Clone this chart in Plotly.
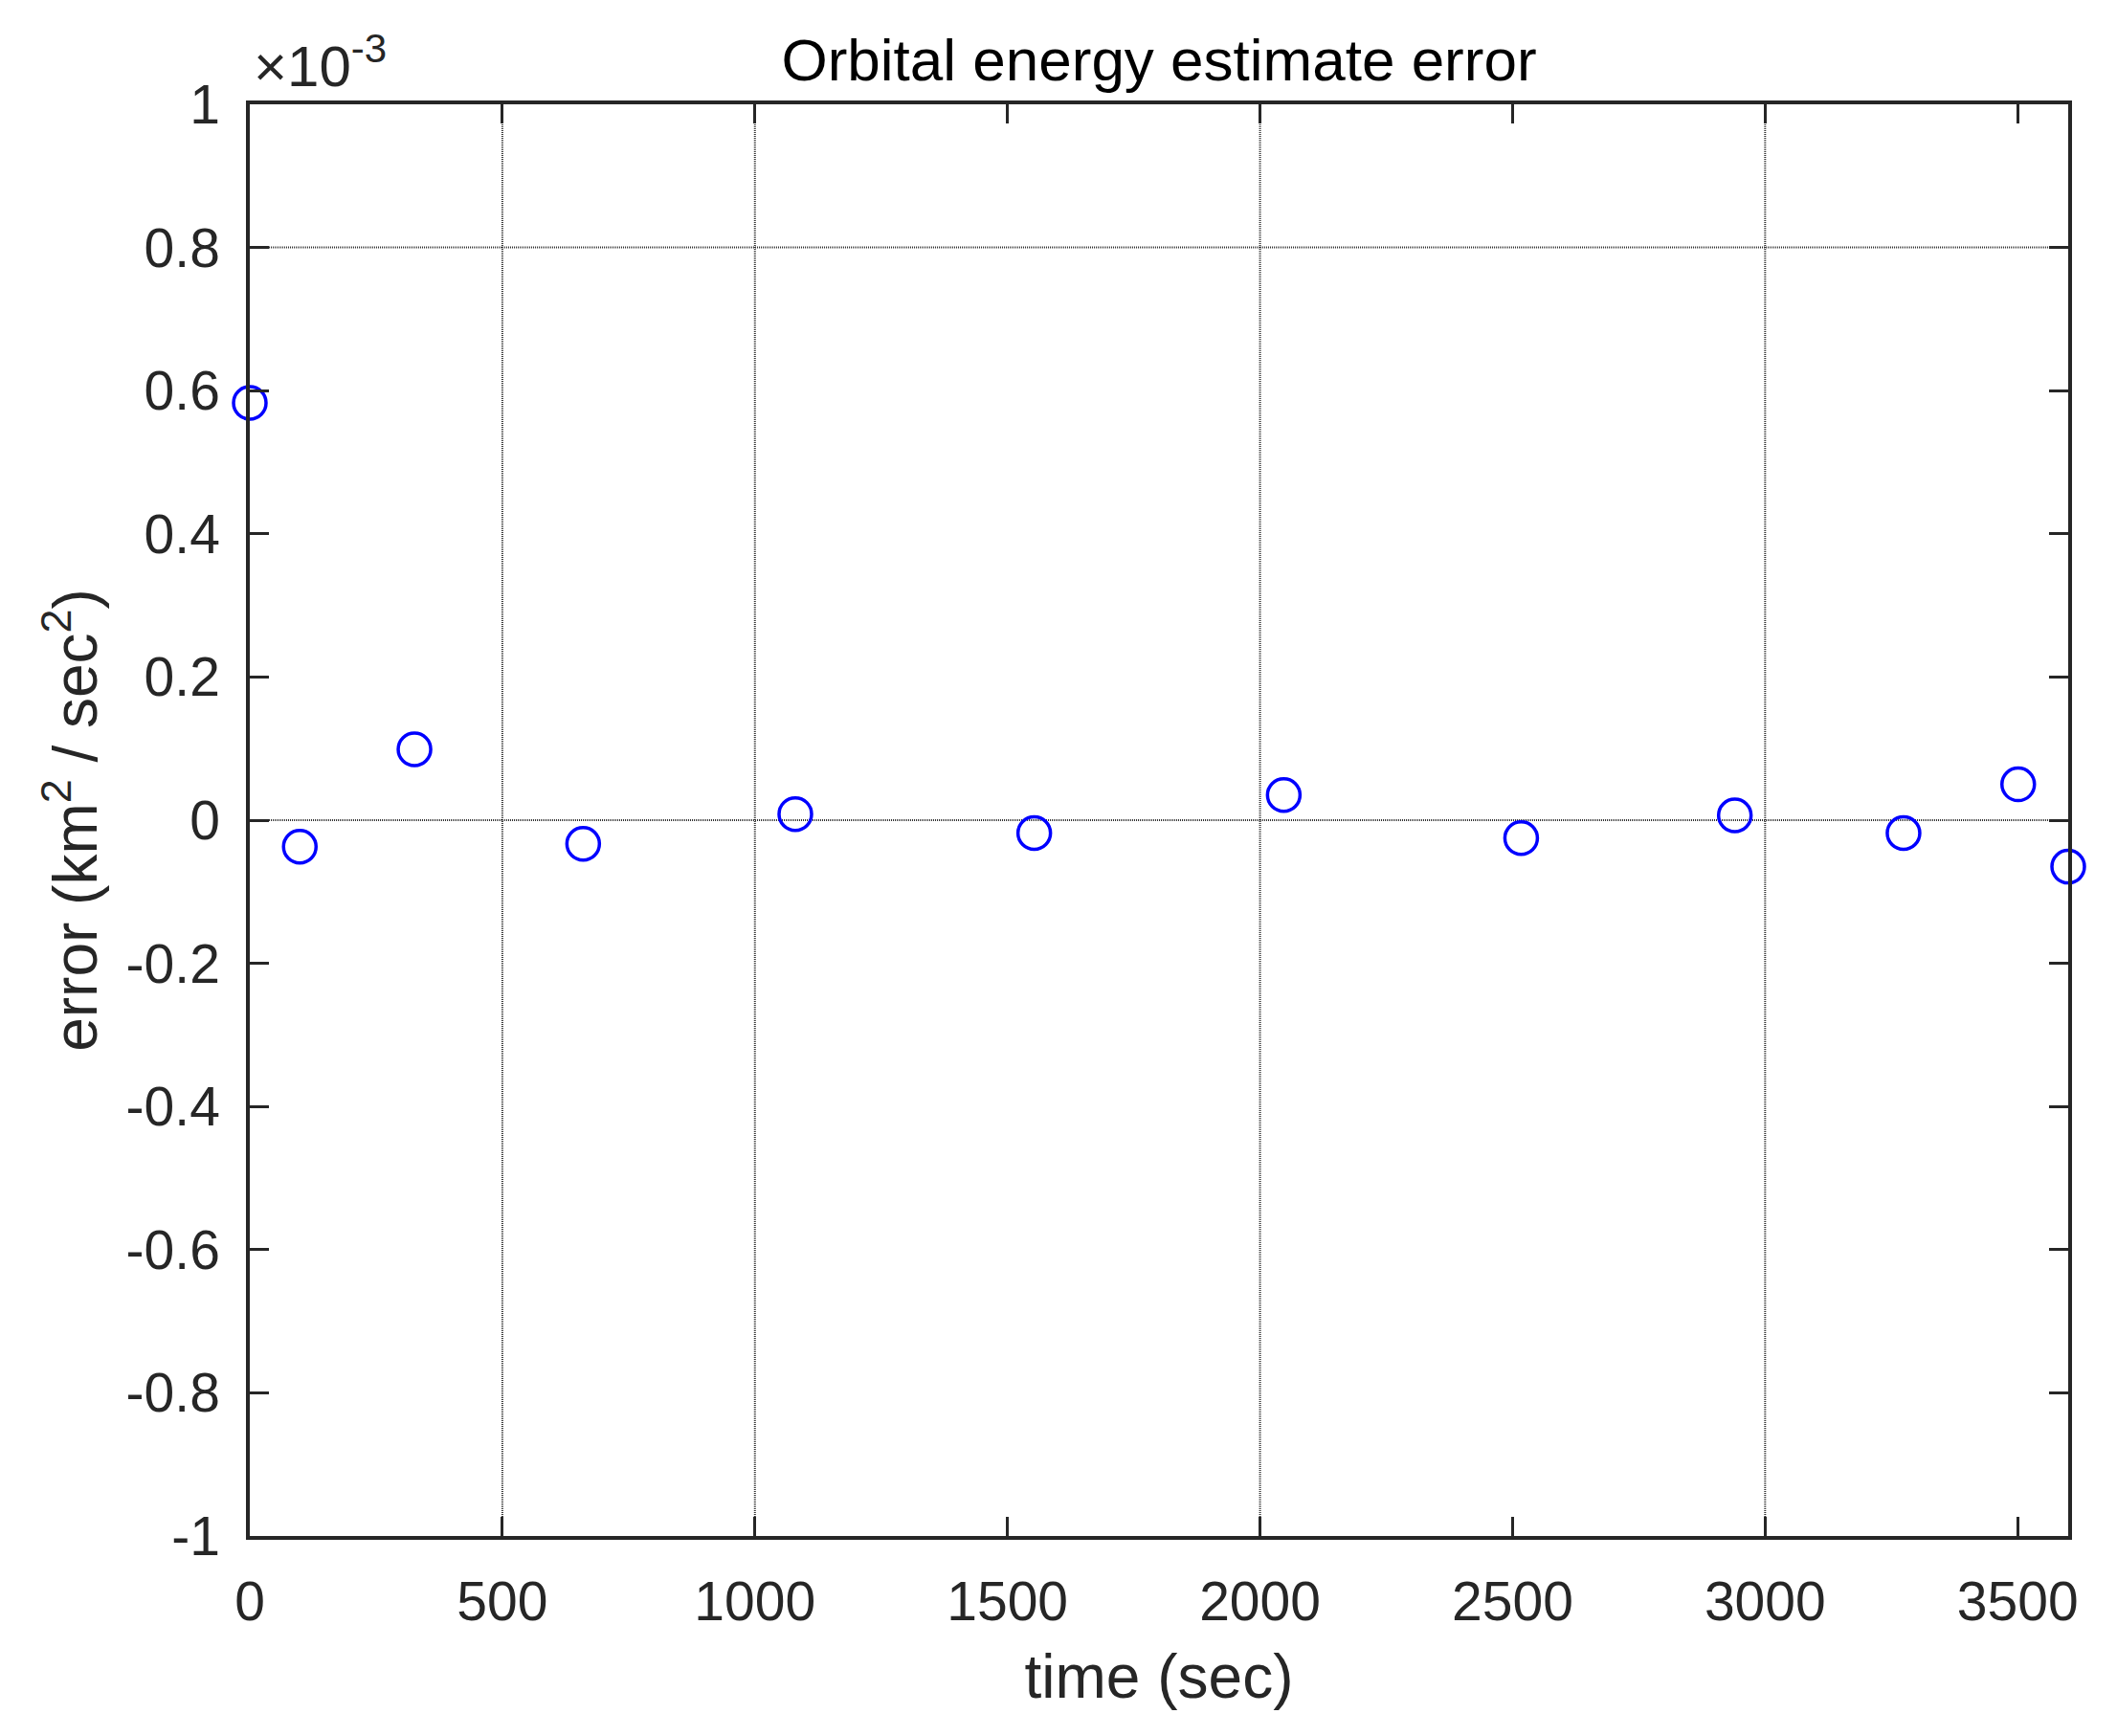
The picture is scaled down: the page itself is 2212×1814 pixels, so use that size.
import plotly.graph_objects as go

# data (error in units of 1e-3 km^2/sec^2)
time_sec = [0, 99, 326, 660, 1080, 1553, 2047, 2517, 2940, 3274, 3501, 3600]
err_e3 = [0.583, -0.037, 0.099, -0.033, 0.0085, -0.018, 0.035, -0.025, 0.0066, -0.018, 0.050, -0.065]

xticks = [0, 500, 1000, 1500, 2000, 2500, 3000, 3500]
yticks = [1, 0.8, 0.6, 0.4, 0.2, 0, -0.2, -0.4, -0.6, -0.8, -1]
ytick_text = ["1", "0.8", "0.6", "0.4", "0.2", "0", "-0.2", "-0.4", "-0.6", "-0.8", "-1"]
xgrid = [500, 1000, 2000, 3000]
ygrid = [0.8, 0]

axis_col = "#262626"
font = "Liberation Sans, Arial, sans-serif"

fig = go.Figure()
fig.add_trace(go.Scatter(
    x=time_sec, y=err_e3, mode="markers",
    marker=dict(symbol="circle-open", size=34, color="#0000ff", line=dict(width=3.5, color="#0000ff")),
    cliponaxis=False, showlegend=False,
))

# reference lines drawn the way the original grid appears
for gx in xgrid:
    fig.add_shape(type="line", xref="x", yref="paper", x0=gx, x1=gx, y0=0, y1=1,
                  line=dict(color="#333333", width=2, dash="1px,1px"), layer="below")
for gy in ygrid:
    fig.add_shape(type="line", xref="paper", yref="y", x0=0, x1=1, y0=gy, y1=gy,
                  line=dict(color="#333333", width=2, dash="1px,1px"), layer="below")

axis_common = dict(
    showline=True, linecolor=axis_col, linewidth=3.5, mirror="ticks",
    ticks="inside", ticklen=20, tickwidth=3, tickcolor=axis_col,
    showgrid=False, zeroline=False,
    tickfont=dict(family=font, size=57, color=axis_col),
)

fig.update_xaxes(range=[0, 3600], tickvals=xticks, ticklabelstandoff=16,
                 title=dict(text="time (sec)", font=dict(family=font, size=64, color=axis_col), standoff=26),
                 **axis_common)
fig.update_yaxes(range=[-1, 1], tickvals=yticks, ticktext=ytick_text, ticklabelstandoff=16,
                 title=dict(text="error (km<sup>2</sup> / sec<sup>2</sup>)", font=dict(family=font, size=64, color=axis_col), standoff=10),
                 **axis_common)

fig.add_annotation(text="×10<sup>-3</sup>", xref="paper", yref="paper", x=0, y=1,
                   xanchor="left", yanchor="bottom", yshift=4, xshift=2, showarrow=False,
                   font=dict(family=font, size=60, color=axis_col))

fig.update_layout(
    width=2212, height=1814,
    margin=dict(l=253, r=59, t=101, b=217),
    paper_bgcolor="white", plot_bgcolor="white",
    title=dict(text="Orbital energy estimate error", x=0.5, xref="paper", xanchor="center",
               y=1 - 54 / 1814, yanchor="middle",
               font=dict(family=font, size=62, color="#000000")),
)

fig.write_html("out.html")
